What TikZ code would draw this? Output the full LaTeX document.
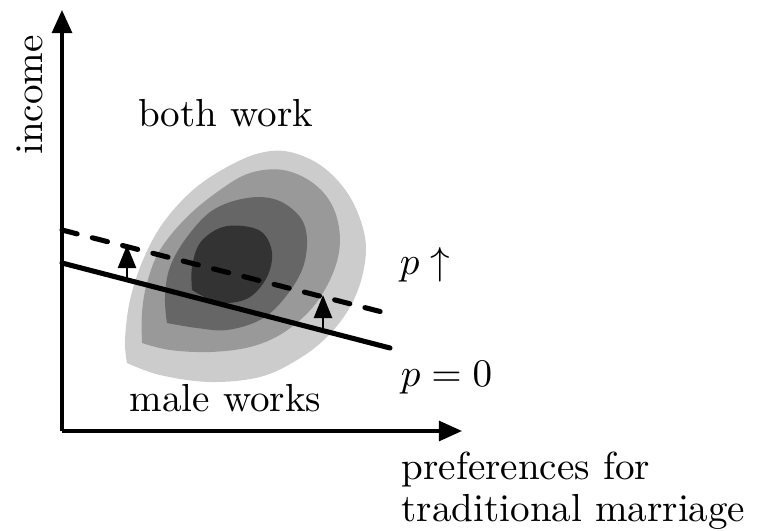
\documentclass[tikz,border=0pt]{standalone}
\usetikzlibrary{arrows.meta}
\begin{document}
\begin{tikzpicture}[x=0.2558pt,y=-0.2558pt,
  axisline/.style={line width=0.8pt,-{Triangle[length=5.9pt,width=5.1pt]}},
  shiftarrow/.style={line width=0.7pt,-{Triangle[length=5.9pt,width=4.6pt]}},
  budget/.style={line width=1.3pt,line cap=round},
  lbl/.style={inner sep=0pt,font=\fontsize{10}{12}\selectfont},
  blob/.style={draw=none}]
\useasboundingbox (0,0) rectangle (776,531);
% contours
\fill[blob,fill=black!20] plot[smooth,tension=0.6] coordinates {(127,363) (125,340) (130,300) (143,260) (163,223) (193,190) (227,167) (260,153) (290,152) (323,167) (350,197) (365,237) (363,273) (350,307) (327,337) (297,360) (260,377) (210,382) (160,375) (127,363)} -- cycle;
\fill[blob,fill=black!40] plot[smooth,tension=0.6] coordinates {(142,343) (142,313) (147,283) (160,250) (187,217) (220,190) (250,173) (283,170) (313,183) (333,207) (340,240) (333,273) (313,307) (283,333) (250,347) (210,352) (170,350) (142,343)} -- cycle;
\fill[blob,fill=black!60] plot[smooth,tension=0.6] coordinates {(167,323) (165,297) (170,267) (187,237) (213,210) (247,198) (277,200) (300,217) (307,240) (302,270) (283,300) (260,320) (227,330) (197,328) (167,323)} -- cycle;
\fill[blob,fill=black!80] plot[smooth,tension=0.6] coordinates {(192,290) (192,267) (200,243) (220,228) (243,226) (263,233) (272,253) (267,277) (250,297) (227,303) (207,298) (192,290)} -- cycle;
% axes
\coordinate (O) at (62,431);
\coordinate (ytip) at (62,10);
\coordinate (xtip) at (462,431);
\draw[axisline] (O) -- (ytip);
\draw[axisline] (O) -- (xtip);
% lines
\coordinate (s0) at (62,263);
\coordinate (s1) at (390,348);
\coordinate (d0) at (62,230);
\coordinate (d1) at (382,312);
\draw[budget] (s0) -- (s1);
\draw[budget,dash pattern=on 4pt off 4pt] (d0) -- (d1);
% shift arrows
\coordinate (a1) at (127,279);
\coordinate (b1) at (127,245);
\coordinate (a2) at (323,330);
\coordinate (b2) at (323,295);
\draw[shiftarrow] (a1) -- (b1);
\draw[shiftarrow] (a2) -- (b2);
% labels
\node[lbl,rotate=90,anchor=base] (inc) at (42,95) {income};
\node[lbl,anchor=base] (both) at (225.5,127) {both work};
\node[lbl,anchor=base] (male) at (225.5,412) {male works};
\node[lbl,anchor=base west] (pup) at (399,275) {$p\uparrow$};
\node[lbl,anchor=base west] (pzero) at (400,387) {$p=0$};
\node[lbl,anchor=base west] (pref1) at (401,480) {preferences for};
\node[lbl,anchor=base west] (pref2) at (401,522) {traditional marriage};
\end{tikzpicture}
\end{document}
